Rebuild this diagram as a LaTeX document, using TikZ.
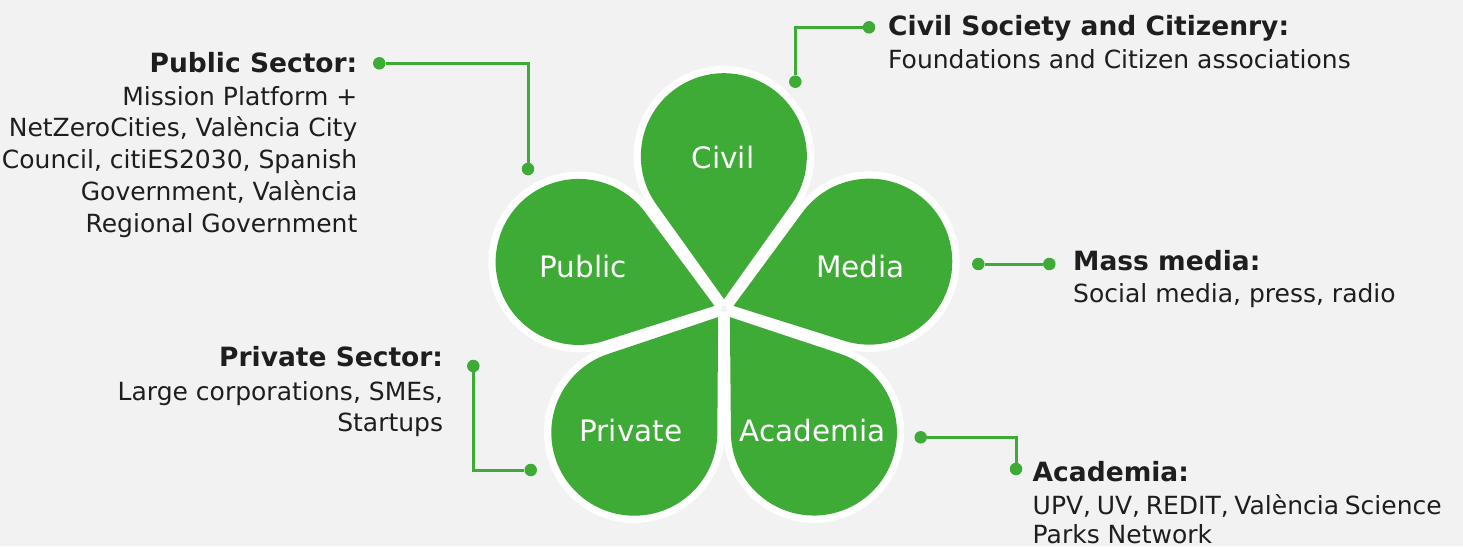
\documentclass[tikz,border=0pt]{standalone}
\usepackage{fontspec}
\setmainfont{DejaVu Sans}
\definecolor{leaf}{RGB}{61,171,53}
\definecolor{bg}{RGB}{242,242,242}
\definecolor{ink}{RGB}{30,30,30}
\begin{document}
\begin{tikzpicture}[x=1pt,y=-1pt,
  rim/.style={draw=white,line width=14.6pt,line join=round},
  petalfill/.style={fill=leaf},
  lbl/.style={text=white,font=\fontsize{29.5}{32}\selectfont,inner sep=0pt,anchor=base},
  conn/.style={draw=leaf,line width=3pt},
  dotnode/.style={circle,fill=leaf,inner sep=0pt,minimum size=12.5pt},
  ttlR/.style={anchor=base east,inner sep=0pt,text=ink,font=\fontsize{26.5}{30}\selectfont\bfseries},
  ttlL/.style={anchor=base west,inner sep=0pt,text=ink,font=\fontsize{26.5}{30}\selectfont\bfseries},
  bodyR/.style={anchor=base east,inner sep=0pt,text=ink,font=\fontsize{25}{30}\selectfont},
  bodyL/.style={anchor=base west,inner sep=0pt,text=ink,font=\fontsize{25}{30}\selectfont}
]
\fill[bg] (0,0) rectangle (1463,546);
\useasboundingbox (0,0) rectangle (1463,546);

\coordinate (C) at (724,309);
% petals: white rims first, then green fills
\foreach \a in {-90,-18,54,126,198}{
  \path[rim] (C) ++(\a:10) -- ++(\a-35.6:116.2)
    arc[start angle=\a-125.6, delta angle=251.2, radius=83] -- cycle;
}
\foreach \a in {-90,-18,54,126,198}{
  \path[petalfill] (C) ++(\a:10) -- ++(\a-35.6:116.2)
    arc[start angle=\a-125.6, delta angle=251.2, radius=83] -- cycle;
}

% petal labels
\node[lbl] (lcivil) at (723,168.7) {Civil};
\node[lbl] (lpublic) at (583,277.3) {Public};
\node[lbl] (lmedia) at (860.5,277.3) {Media};
\node[lbl] (lprivate) at (631,441.7) {Private};
\node[lbl] (lacademia) at (812.5,441.7) {Academia};

% connector dots
\node[dotnode] (pubA) at (379.3,63.3) {};
\node[dotnode] (pubB) at (528,169) {};
\node[dotnode] (civA) at (869,27.3) {};
\node[dotnode] (civB) at (795.3,81.7) {};
\node[dotnode] (medA) at (978.3,264) {};
\node[dotnode] (medB) at (1049.3,264) {};
\node[dotnode] (priA) at (473.3,366) {};
\node[dotnode] (priB) at (530.7,470) {};
\node[dotnode] (acaA) at (920.7,437.3) {};
\node[dotnode] (acaB) at (1016,469) {};

% connectors
\draw[conn] (pubA) -| (pubB);
\draw[conn] (civB) |- (civA);
\draw[conn] (medA) -- (medB);
\draw[conn] (priA) |- (priB);
\draw[conn] (acaA) -| (acaB);

% Public sector text
\node[ttlR] (tpub) at (357.5,72.3) {Public Sector:};
\node[bodyR] (bpub1) at (357.5,105) {Mission Platform +};
\node[bodyR] (bpub2) at (357.5,136.8) {NetZeroCities, València City};
\node[bodyR] (bpub3) at (357.5,168.6) {Council, citiES2030, Spanish};
\node[bodyR] (bpub4) at (357.5,200.4) {Government, València};
\node[bodyR] (bpub5) at (357.5,232.2) {Regional Government};

% Civil society text
\node[ttlL] (tciv) at (888,35) {Civil Society and Citizenry:};
\node[bodyL] (bciv1) at (888,68.3) {Foundations and Citizen associations};

% Mass media text
\node[ttlL] (tmed) at (1073,270) {Mass media:};
\node[bodyL] (bmed1) at (1073,302.7) {Social media, press, radio};

% Private sector text
\node[ttlR] (tpri) at (443.3,366.7) {Private Sector:};
\node[bodyR] (bpri1) at (443.3,400) {Large corporations, SMEs,};
\node[bodyR] (bpri2) at (443.3,431.8) {Startups};

% Academia text
\node[ttlL] (taca) at (1032.5,481) {Academia:};
\node[bodyL] (baca1) at (1032.5,514) {\makebox[409pt][s]{UPV, UV, REDIT, València Science}};
\node[bodyL] (baca2) at (1032.5,543.5) {Parks Network};
\end{tikzpicture}
\end{document}
